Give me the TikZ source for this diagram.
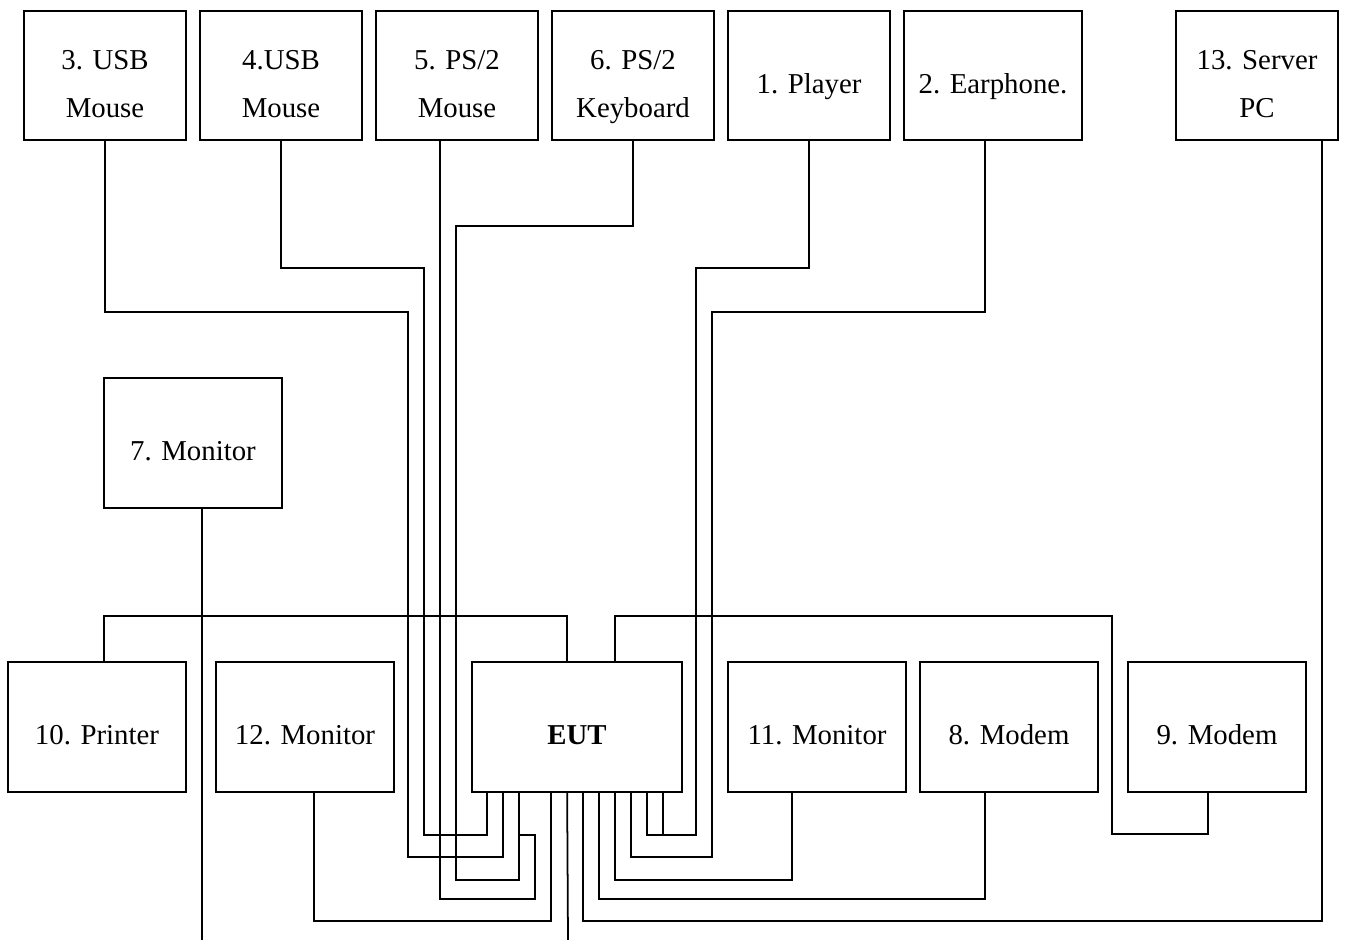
\documentclass[tikz,border=0pt]{standalone}
\usepackage{fontspec}
\setmainfont{Liberation Serif}
\usepackage{tikz}
\usetikzlibrary{calc}
\newcommand{\devlbl}[1]{\raisebox{-0.32cm}[0pt][0pt]{\begin{tabular}{@{}c@{}}#1\end{tabular}}}

\begin{document}
\begin{tikzpicture}[x=0.02cm,y=-0.02cm,line width=1pt,
	dev/.style={draw,inner sep=0pt,minimum width=3.56cm,minimum height=2.6cm,font=\fontsize{16.4}{27}\selectfont},
	topdev/.style={dev,minimum width=3.24cm,minimum height=2.58cm}]
	\useasboundingbox (0,0) rectangle (1360,940);
	\node[topdev] (usb3) at (105,75.5) {\devlbl{3. USB\\Mouse}};
	\node[topdev] (usb4) at (281,75.5) {\devlbl{4.USB\\Mouse}};
	\node[topdev] (ps2m) at (457,75.5) {\devlbl{5. PS/2\\Mouse}};
	\node[topdev] (ps2k) at (633,75.5) {\devlbl{6. PS/2\\Keyboard}};
	\node[topdev] (player) at (809,75.5) {\devlbl{1. Player}};
	\node[topdev,minimum width=3.56cm] (ear) at (993,75.5) {\devlbl{2. Earphone.}};
	\node[topdev] (server) at (1257,75.5) {\devlbl{13. Server\\PC}};
	\node[dev] (mon7) at (193,443) {\devlbl{7. Monitor}};
	\node[dev] (printer) at (97,727) {\devlbl{10. Printer}};
	\node[dev] (mon12) at (305,727) {\devlbl{12. Monitor}};
	\node[dev,minimum width=4.2cm] (eut) at (577,727) {\devlbl{\textbf{EUT}}};
	\node[dev] (mon11) at (817,727) {\devlbl{11. Monitor}};
	\node[dev] (modem8) at (1009,727) {\devlbl{8. Modem}};
	\node[dev] (modem9) at (1217,727) {\devlbl{9. Modem}};
	\foreach \i in {1,...,12}
		\coordinate (p\i) at ($(eut.south west)+(16*\i,0)$);
	\coordinate (q6) at ($(eut.north west)+(96,0)$);
	\coordinate (q9) at ($(eut.north west)+(144,0)$);
	\coordinate (cut7) at (202,940);
	\coordinate (cut6) at (568,940);
	\draw (usb3.south) |- (408,312) |- ($(p2)+(0,64)$) -- (p2);
	\draw (usb4.south) |- (424,268) |- ($(p1)+(0,42)$) -- (p1);
	\draw ($(ps2m.south)+(-17,0)$) |- ($(p4)+(0,106)$) |- ($(p3)+(0,42)$);
	\draw (ps2k.south) |- (456,226) |- ($(p3)+(0,87)$) -- (p3);
	\draw (player.south) |- (696,268) |- ($(p11)+(0,42)$) -- (p11);
	\draw (p12) -- ($(p12)+(0,42)$);
	\draw ($(ear.south)+(-8,0)$) |- (712,312) |- ($(p10)+(0,64)$) -- (p10);
	\draw ($(server.south)+(65,0)$) |- ($(p7)+(0,128)$) -- (p7);
	\draw ($(mon7.south)+(9,0)$) -- (cut7);
	\draw (p6) -- (cut6);
	\draw ($(printer.north)+(7,0)$) |- ($(q6)+(0,-45)$) -- (q6);
	\draw ($(modem9.south)+(-9,0)$) |- (1112,834) |- ($(q9)+(0,-45)$) -- (q9);
	\draw ($(mon11.south)+(-25,0)$) |- ($(p9)+(0,87)$) -- (p9);
	\draw ($(modem8.south)+(-24,0)$) |- ($(p8)+(0,106)$) -- (p8);
	\draw ($(mon12.south)+(9,0)$) |- ($(p5)+(0,128)$) -- (p5);
\end{tikzpicture}
\end{document}
